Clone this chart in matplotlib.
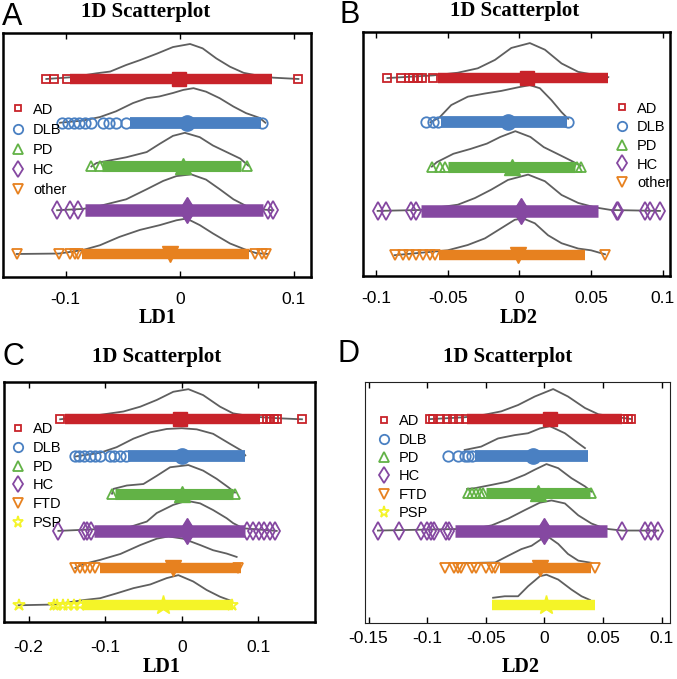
import matplotlib
matplotlib.use('Agg')
import matplotlib.pyplot as plt
from matplotlib.lines import Line2D

plt.rcParams['axes.unicode_minus'] = False
plt.rcParams['font.family'] = ['Liberation Sans', 'DejaVu Sans']

# ---------------- data ----------------
# Panel A (LD1, 5 groups)
A_groups = ['AD', 'DLB', 'PD', 'HC', 'other']
A_center = [-0.001, 0.006, 0.003, 0.006, -0.0088]
A_band_lo = [-0.096, -0.044, -0.068, -0.083, -0.086]
A_band_hi = [0.081, 0.071, 0.054, 0.073, 0.061]
A_outliers = [
    [-0.117, -0.110, -0.0985, 0.104],
    [-0.103, -0.098, -0.093, -0.088, -0.083, -0.078, -0.067, -0.062, -0.056, -0.047, 0.072],
    [-0.0775, -0.070, 0.059],
    [-0.1076, -0.0965, -0.089, 0.0775, 0.082],
    [-0.143, -0.106, -0.0965, -0.092, -0.089, 0.066, 0.072, 0.0755],
]
A_kde_x = [
    [-0.117, -0.095, -0.073, -0.061, -0.047, -0.035, -0.020, -0.006, 0.009, 0.020, 0.032, 0.044, 0.056, 0.070, 0.082, 0.104],
    [-0.105, -0.085, -0.070, -0.056, -0.041, -0.029, -0.018, -0.006, 0.003, 0.012, 0.023, 0.035, 0.047, 0.058, 0.070, 0.075],
    [-0.0775, -0.073, -0.047, -0.029, -0.0175, -0.006, 0.0044, 0.0175, 0.029, 0.041, 0.053, 0.060],
    [-0.1076, -0.085, -0.070, -0.047, -0.029, -0.0146, -0.003, 0.010, 0.023, 0.035, 0.047, 0.058, 0.070, 0.082],
    [-0.143, -0.106, -0.085, -0.070, -0.053, -0.035, -0.0175, -0.003, 0.006, 0.0175, 0.029, 0.044, 0.0585, 0.067, 0.0775],
]
A_kde_h = [
    [0, 0.04, 0.13, 0.17, 0.32, 0.43, 0.58, 0.73, 0.80, 0.70, 0.47, 0.28, 0.14, 0.07, 0.03, 0],
    [0, 0.05, 0.13, 0.26, 0.45, 0.56, 0.60, 0.68, 0.75, 0.79, 0.71, 0.56, 0.37, 0.22, 0.11, 0],
    [0, 0.08, 0.21, 0.33, 0.52, 0.70, 0.77, 0.67, 0.48, 0.33, 0.18, 0.02],
    [0, 0.03, 0.10, 0.25, 0.48, 0.67, 0.78, 0.82, 0.70, 0.48, 0.25, 0.10, 0.02, 0],
    [0, 0.01, 0.09, 0.20, 0.39, 0.55, 0.66, 0.77, 0.81, 0.66, 0.47, 0.24, 0.09, 0.02, 0],
]
A_xticks = [-0.1, 0, 0.1]
A_xticklabels = ['-0.1', '0', '0.1']

# Panel B (LD2, 5 groups)
B_groups = ['AD', 'DLB', 'PD', 'HC', 'other']
B_center = [0.005, -0.008, -0.005, 0.001, -0.001]
B_band_lo = [-0.057, -0.0545, -0.050, -0.0685, -0.0557]
B_band_hi = [0.062, 0.033, 0.0387, 0.055, 0.0457]
B_outliers = [
    [-0.092, -0.0825, -0.077, -0.074, -0.071, -0.068, -0.060],
    [-0.065, -0.060, -0.057, 0.034],
    [-0.061, -0.055, -0.052, 0.040, 0.0427],
    [-0.0988, -0.093, -0.0755, -0.072, 0.0678, 0.069, 0.0877, 0.0912, 0.098],
    [-0.087, -0.081, -0.077, -0.072, -0.067, -0.0625, -0.059, 0.0597],
]
B_kde_x = [
    [-0.092, -0.060, -0.043, -0.029, -0.017, -0.0056, 0.0073, 0.0178, 0.0294, 0.041, 0.0527, 0.062],
    [-0.062, -0.0557, -0.0475, -0.0359, -0.0242, -0.0126, -0.001, 0.0073, 0.0143, 0.0224, 0.0294, 0.034],
    [-0.061, -0.0576, -0.046, -0.034, -0.0226, -0.0133, -0.0028, 0.0077, 0.017, 0.0264, 0.0357, 0.0427],
    [-0.0988, -0.070, -0.0429, -0.031, -0.0196, -0.0079, 0.0061, 0.0178, 0.0294, 0.041, 0.0527, 0.064, 0.098],
    [-0.087, -0.050, -0.036, -0.024, -0.0126, -0.0032, 0.0026, 0.0108, 0.020, 0.0294, 0.041, 0.050, 0.0597],
]
B_kde_h = [
    [0, 0.06, 0.12, 0.22, 0.41, 0.68, 0.79, 0.64, 0.33, 0.14, 0.07, 0.02],
    [0, 0.11, 0.39, 0.58, 0.65, 0.71, 0.79, 0.84, 0.77, 0.50, 0.23, 0.08],
    [0, 0.10, 0.29, 0.40, 0.52, 0.67, 0.80, 0.67, 0.44, 0.29, 0.14, 0.02],
    [0, 0.02, 0.14, 0.29, 0.48, 0.70, 0.82, 0.67, 0.36, 0.18, 0.08, 0.02, 0],
    [0, 0.11, 0.23, 0.38, 0.61, 0.80, 0.83, 0.72, 0.45, 0.27, 0.15, 0.11, 0.02],
]
B_xticks = [-0.1, -0.05, 0, 0.05, 0.1]
B_xticklabels = ['-0.1', '-0.05', '0', '0.05', '0.1']

# Panel C (LD1, 6 groups)
C_groups = ['AD', 'DLB', 'PD', 'HC', 'FTD', 'PSP']
C_center = [-0.002, 0.0, 0.0, 0.0065, -0.011, -0.024]
C_band_lo = [-0.152, -0.0696, -0.087, -0.115, -0.1065, -0.13]
C_band_hi = [0.102, 0.0825, 0.067, 0.0825, 0.078, 0.067]
C_outliers = [
    [-0.1587, 0.106, 0.111, 0.115, 0.120, 0.124, 0.157],
    [-0.139, -0.134, -0.127, -0.120, -0.113, -0.107, -0.093, -0.088, -0.080, -0.073],
    [-0.091, 0.0695],
    [-0.161, -0.128, -0.124, -0.119, 0.085, 0.093, 0.101, 0.108, 0.115, 0.122],
    [-0.139, -0.133, -0.126, -0.120, -0.113, 0.074],
    [-0.213, -0.167, -0.163, -0.155, -0.148, -0.140, -0.133, 0.065],
]
C_kde_x = [
    [-0.1587, -0.1065, -0.076, -0.054, -0.0326, -0.011, 0.0087, 0.028, 0.050, 0.067, 0.093, 0.124, 0.157],
    [-0.139, -0.1065, -0.085, -0.063, -0.041, -0.0196, 0.0, 0.0196, 0.041, 0.063, 0.078, 0.083],
    [-0.091, -0.089, -0.0717, -0.050, -0.0326, -0.0152, 0.0087, 0.028, 0.0456, 0.061, 0.0695],
    [-0.161, -0.0717, -0.0456, -0.0326, -0.011, 0.0065, 0.024, 0.041, 0.0587, 0.067, 0.080, 0.124],
    [-0.139, -0.128, -0.1065, -0.080, -0.054, -0.0326, -0.0174, 0.002, 0.024, 0.041, 0.0587, 0.0717],
    [-0.213, -0.167, -0.128, -0.1065, -0.085, -0.063, -0.041, -0.0196, -0.0044, 0.015, 0.0326, 0.050, 0.063],
]
C_kde_h = [
    [0, 0.12, 0.21, 0.34, 0.52, 0.74, 0.81, 0.65, 0.34, 0.16, 0.07, 0.03, 0],
    [0, 0.10, 0.25, 0.48, 0.65, 0.74, 0.76, 0.73, 0.61, 0.34, 0.16, 0.03],
    [0, 0.13, 0.22, 0.26, 0.48, 0.71, 0.77, 0.62, 0.40, 0.17, 0.03],
    [0, 0.08, 0.25, 0.48, 0.70, 0.81, 0.74, 0.56, 0.34, 0.21, 0.07, 0],
    [0, 0.11, 0.22, 0.38, 0.62, 0.79, 0.85, 0.79, 0.62, 0.48, 0.39, 0.30],
    [0, 0.02, 0.14, 0.19, 0.32, 0.46, 0.56, 0.73, 0.81, 0.64, 0.41, 0.23, 0.13],
]
C_xticks = [-0.2, -0.1, 0, 0.1]
C_xticklabels = ['-0.2', '-0.1', '0', '0.1']

# Panel D (LD2, 6 groups)
D_groups = ['AD', 'DLB', 'PD', 'HC', 'FTD', 'PSP']
D_center = [0.0046, -0.0097, -0.0054, 0.0, -0.0037, 0.0012]
D_band_lo = [-0.066, -0.0595, -0.0496, -0.0766, -0.038, -0.045]
D_band_hi = [0.066, 0.0374, 0.039, 0.053, 0.040, 0.043]
D_outliers = [
    [-0.098, -0.095, -0.089, -0.083, -0.078, -0.073, -0.067, 0.068, 0.071, 0.0735],
    [-0.0823, -0.0738, -0.068, -0.065, -0.062],
    [-0.065, -0.062, -0.058, -0.055, -0.052, 0.040],
    [-0.142, -0.1236, -0.105, -0.100, -0.097, -0.094, -0.084, -0.081, 0.066, 0.0858, 0.091, 0.097],
    [-0.085, -0.077, -0.074, -0.071, -0.062, -0.058, -0.050, -0.045, -0.042, 0.0433],
    [],
]
D_kde_x = [
    [-0.098, -0.068, -0.051, -0.0368, -0.0225, -0.0082, 0.0074, 0.020, 0.0345, 0.046, 0.063, 0.0744],
    [-0.068, -0.054, -0.0396, -0.0253, -0.014, -0.0039, 0.0046, 0.0174, 0.0288, 0.0345],
    [-0.066, -0.0595, -0.045, -0.031, -0.0168, -0.0082, 0.0017, 0.0117, 0.023, 0.0345, 0.040],
    [-0.142, -0.0595, -0.045, -0.031, -0.0168, -0.004, 0.006, 0.0174, 0.0288, 0.040, 0.0516, 0.066, 0.097],
    [-0.074, -0.042, -0.031, -0.0197, -0.011, -0.0026, 0.0032, 0.0117, 0.020, 0.0288, 0.040],
    [-0.0438, -0.0339, -0.0225, -0.014, -0.0039, 0.0017, 0.0117, 0.023, 0.0316, 0.0388],
]
D_kde_h = [
    [0, 0.05, 0.12, 0.21, 0.38, 0.61, 0.81, 0.61, 0.30, 0.13, 0.05, 0],
    [0.17, 0.26, 0.48, 0.57, 0.62, 0.75, 0.81, 0.62, 0.35, 0.22],
    [0.12, 0.14, 0.23, 0.32, 0.50, 0.64, 0.79, 0.68, 0.41, 0.19, 0.05],
    [0, 0.05, 0.14, 0.32, 0.55, 0.75, 0.81, 0.73, 0.41, 0.19, 0.05, 0, 0],
    [0.12, 0.14, 0.32, 0.50, 0.59, 0.77, 0.83, 0.64, 0.37, 0.19, 0.13],
    [0.19, 0.23, 0.23, 0.50, 0.77, 0.81, 0.68, 0.41, 0.23, 0.13],
]
D_xticks = [-0.15, -0.1, -0.05, 0, 0.05, 0.1]
D_xticklabels = ['-0.15', '-0.1', '-0.05', '0', '0.05', '0.1']

# ---------------- styles ----------------
COL = {'AD': '#c8232a', 'DLB': '#4a80c2', 'PD': '#62b246', 'HC': '#8548a1',
       'other': '#e7811f', 'FTD': '#e7811f', 'PSP': '#f4f428'}
MARK = {'AD': 's', 'DLB': 'o', 'PD': '^', 'HC': 'd', 'other': 'v', 'FTD': 'v', 'PSP': '*'}
MSIZE = {'s': 5.5, 'o': 7.5, '^': 7.5, 'd': 9.0, 'v': 7.5, '*': 9.0}
CSIZE = {'s': 10.5, 'o': 11.0, '^': 12.0, 'd': 13.5, 'v': 12.0, '*': 14.0}
BAND = {'s': 7.5, 'o': 8.5, '^': 8.0, 'd': 9.0, 'v': 7.5, '*': 7.5}
CURVE_COL = '#5f5f5f'

W, H = 677, 679
fig = plt.figure(figsize=(W / 100, H / 100), dpi=100)


def rect(x0, y0, x1, y1):
    return [x0 / W, 1 - y1 / H, (x1 - x0) / W, (y1 - y0) / H]


def panel(r, groups, center, lo, hi, outliers, kx, kh, xlim, ylim, xticks, xtl,
          legend_anchor, labelspacing, pad, thin=False):
    ax = fig.add_axes(rect(*r))
    for i, g in enumerate(groups):
        row = i + 1
        c = COL[g]
        m = MARK[g]
        ax.plot(kx[i], [row - h for h in kh[i]], color=CURVE_COL, lw=1.3, zorder=2)
        ax.plot([lo[i], hi[i]], [row, row], color=c, lw=BAND[m],
                solid_capstyle='butt', zorder=3)
        if outliers[i]:
            ax.plot(outliers[i], [row] * len(outliers[i]), ls='none', marker=m,
                    ms=MSIZE[m], mfc='none', mec=c, mew=1.3, zorder=4)
        ax.plot([center[i]], [row], ls='none', marker=m, ms=CSIZE[m],
                mfc=c, mec=c, zorder=5)
    ax.set_xlim(*xlim)
    ax.set_ylim(*ylim)
    ax.set_xticks(xticks)
    ax.set_xticklabels(xtl)
    ax.set_yticks([])
    ax.tick_params(axis='x', direction='in', top=True, bottom=True, length=4,
                   width=1.0, labelsize=12.5, pad=pad)
    for s in ax.spines.values():
        s.set_linewidth(0.8 if thin else 1.8)
        s.set_color('#222222' if thin else 'black')
    handles = [Line2D([], [], ls='none', marker=MARK[g], ms=MSIZE[MARK[g]] * 0.9,
                      mfc='none', mec=COL[g], mew=1.3) for g in groups]
    ax.legend(handles, groups, loc='upper left', bbox_to_anchor=legend_anchor,
              frameon=False, fontsize=10.5, handlelength=1.0, handletextpad=0.5,
              labelspacing=labelspacing, borderpad=0, borderaxespad=0)
    return ax


panel((3, 33, 311, 277), A_groups, A_center, A_band_lo, A_band_hi, A_outliers,
      A_kde_x, A_kde_h, (-0.155, 0.115), (5.526, -0.051), A_xticks, A_xticklabels,
      (0.026, 0.715), 0.42, 11)
panel((363, 32, 670, 276), B_groups, B_center, B_band_lo, B_band_hi, B_outliers,
      B_kde_x, B_kde_h, (-0.109, 0.105), (5.47, -0.04), B_xticks, B_xticklabels,
      (0.821, 0.715), 0.32, 11)
panel((4, 382, 315, 622), C_groups, C_center, C_band_lo, C_band_hi, C_outliers,
      C_kde_x, C_kde_h, (-0.232, 0.174), (6.45, -0.003), C_xticks, C_xticklabels,
      (0.0225, 0.832), 0.32, 13)
panel((365, 382, 670, 623), D_groups, D_center, D_band_lo, D_band_hi, D_outliers,
      D_kde_x, D_kde_h, (-0.153, 0.107), (6.49, 0.0), D_xticks, D_xticklabels,
      (0.039, 0.866), 0.30, 6, thin=True)

# titles, axis labels, panel letters (pixel positions)
serif = ['Liberation Serif', 'DejaVu Serif']
for (x, y) in [(146, 12), (515, 11), (157, 357), (508, 357)]:
    fig.text(x / W, 1 - y / H, '1D Scatterplot', family=serif, weight='bold',
             fontsize=15, ha='center', va='center')
for (x, y, t) in [(158, 318, 'LD1'), (519, 318, 'LD2'), (162, 667, 'LD1'), (521, 667, 'LD2')]:
    fig.text(x / W, 1 - y / H, t, family=serif, weight='bold', fontsize=14.5,
             ha='center', va='center')
for (x, y, t) in [(2, 25, 'A'), (339, 23, 'B'), (2, 365, 'C'), (337, 362, 'D')]:
    fig.text(x / W, 1 - y / H, t, fontsize=22, ha='left', va='baseline')

fig.savefig('out.png', dpi=100)
